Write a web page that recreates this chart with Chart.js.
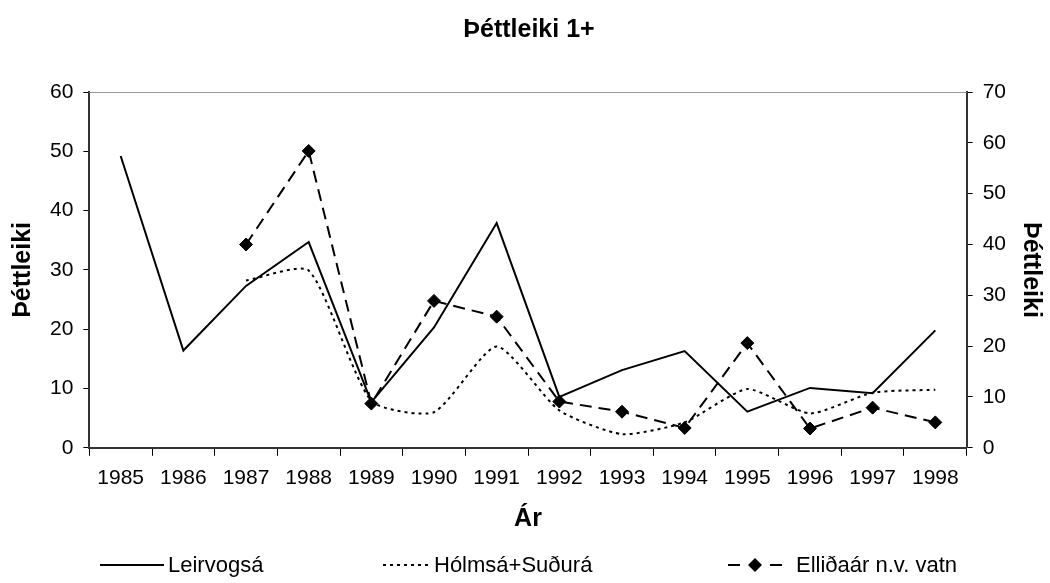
<!DOCTYPE html>
<html>
<head>
<meta charset="utf-8">
<script src="https://cdn.jsdelivr.net/npm/chart.js@4.4.0/dist/chart.umd.min.js"></script>
<style>
  html, body { margin: 0; padding: 0; background: #fff; }
  #wrap { position: relative; width: 1050px; height: 583px; }
  #legend { position: absolute; left: 0; top: 552px; width: 1050px; height: 26px;
            font: 22px "Liberation Sans", Arial, sans-serif; color: #000; }
  #legend .item { position: absolute; top: 0; height: 26px; display: flex; align-items: center; white-space: nowrap; }
  #legend canvas { margin-right: 4px; }
</style>
</head>
<body>
<div id="wrap">
  <canvas id="c" width="1050" height="583"></canvas>
  <div id="legend"></div>
</div>
<script>
const years = ['1985', '1986', '1987', '1988', '1989', '1990', '1991',
               '1992', '1993', '1994', '1995', '1996', '1997', '1998'];

// vinstri ás
const leirvogsa = [49.2, 16.4, 27.3, 34.7, 7.7, 20.3, 37.9, 8.6, 13.1, 16.3, 6.1, 10.1, 9.2, 19.8];
const holmsa = [null, null, 28.2, 29.9, 7.9, 6.0, 17.1, 6.3, 2.3, 4.3, 9.9, 5.8, 9.3, 9.8];
// hægri ás
const ellidaar = [null, null, 40.0, 58.4, 8.7, 28.9, 25.8, 9.1, 7.1, 3.9, 20.6, 3.8, 7.9, 5.0];

const FONT = '"Liberation Sans", Arial, sans-serif';

// litlar myndir fyrir skýringar
function legendSample(w, dash, diamond) {
    const cv = document.createElement('canvas');
    cv.width = w; cv.height = 16;
    const g = cv.getContext('2d');
    g.strokeStyle = '#000';
    g.lineWidth = 2;
    g.setLineDash(dash);
    g.beginPath();
    g.moveTo(0, 8);
    g.lineTo(w, 8);
    g.stroke();
    if (diamond) {
        const m = w / 2;
        g.fillStyle = '#000';
        g.beginPath();
        g.moveTo(m, 1); g.lineTo(m + 7, 8); g.lineTo(m, 15); g.lineTo(m - 7, 8);
        g.closePath();
        g.fill();
    }
    return cv;
}

const topBorder = {
    id: 'topBorder',
    afterDraw(chart) {
        const { ctx, chartArea } = chart;
        ctx.save();
        ctx.strokeStyle = '#999';
        ctx.lineWidth = 1;
        ctx.beginPath();
        ctx.moveTo(chartArea.left, chartArea.top + 0.5);
        ctx.lineTo(chartArea.right, chartArea.top + 0.5);
        ctx.stroke();
        ctx.restore();
    }
};

Chart.defaults.font.family = FONT;
Chart.defaults.color = '#000';

const chart = new Chart(document.getElementById('c'), {
    type: 'line',
    data: {
        labels: years,
        datasets: [
            {
                label: 'Leirvogsá',
                data: leirvogsa,
                yAxisID: 'y',
                borderColor: '#000',
                borderWidth: 2,
                pointRadius: 0,
                tension: 0
            },
            {
                label: 'Hólmsá+Suðurá',
                data: holmsa,
                yAxisID: 'y',
                borderColor: '#000',
                borderWidth: 2,
                borderDash: [3, 4],
                pointRadius: 0,
                tension: 0.2
            },
            {
                label: 'Elliðaár n.v. vatn',
                data: ellidaar,
                yAxisID: 'y2',
                borderColor: '#000',
                backgroundColor: '#000',
                borderWidth: 2,
                borderDash: [12, 7],
                pointStyle: 'rectRot',
                pointRadius: 6.5,
                pointBorderWidth: 1,
                tension: 0
            }
        ]
    },
    options: {
        responsive: false,
        animation: false,
        layout: { padding: { left: 8, right: 0, top: 0, bottom: 49 } },
        plugins: {
            title: {
                display: true,
                text: 'Þéttleiki 1+',
                font: { size: 25, weight: 'bold' },
                padding: { top: 15, bottom: 47 }
            },
            legend: { display: false },
            tooltip: { enabled: false }
        },
        scales: {
            x: {
                offset: true,
                grid: { offset: true, drawOnChartArea: false, color: '#000', tickLength: 8 },
                border: { color: '#333', width: 2 },
                ticks: { font: { size: 21 }, padding: 10, maxRotation: 0 },
                title: { display: true, text: 'Ár', font: { size: 25, weight: 'bold' }, padding: { top: 3, bottom: 0 } }
            },
            y: {
                position: 'left',
                min: 0, max: 60,
                ticks: { stepSize: 10, font: { size: 21 }, padding: 10 },
                grid: { drawOnChartArea: false, color: '#000', tickLength: 6 },
                border: { color: '#333', width: 2 },
                title: { display: true, text: 'Þéttleiki', font: { size: 25, weight: 'bold' }, padding: { top: 0, bottom: 2 } }
            },
            y2: {
                position: 'right',
                min: 0, max: 70,
                ticks: { stepSize: 10, font: { size: 21 }, padding: 10 },
                grid: { drawOnChartArea: false, color: '#000', tickLength: 6 },
                border: { color: '#333', width: 2 },
                title: { display: true, text: 'Þéttleiki', font: { size: 25, weight: 'bold' }, padding: { top: 4, bottom: 0 } }
            }
        }
    },
    plugins: [topBorder]
});

// skýringar neðst
const legendPos = [100, 383, 728];
const legendGap = [4, 3, 14];
const legendSamples = [legendSample(64, [], false), legendSample(48, [3, 4], false), legendSample(54, [12, 30], true)];
const legendBox = document.getElementById('legend');
chart.data.datasets.forEach((ds, i) => {
    const item = document.createElement('div');
    item.className = 'item';
    item.style.left = legendPos[i] + 'px';
    legendSamples[i].style.marginRight = legendGap[i] + 'px';
    item.appendChild(legendSamples[i]);
    const t = document.createElement('span');
    t.textContent = ds.label;
    item.appendChild(t);
    legendBox.appendChild(item);
});
</script>
</body>
</html>
